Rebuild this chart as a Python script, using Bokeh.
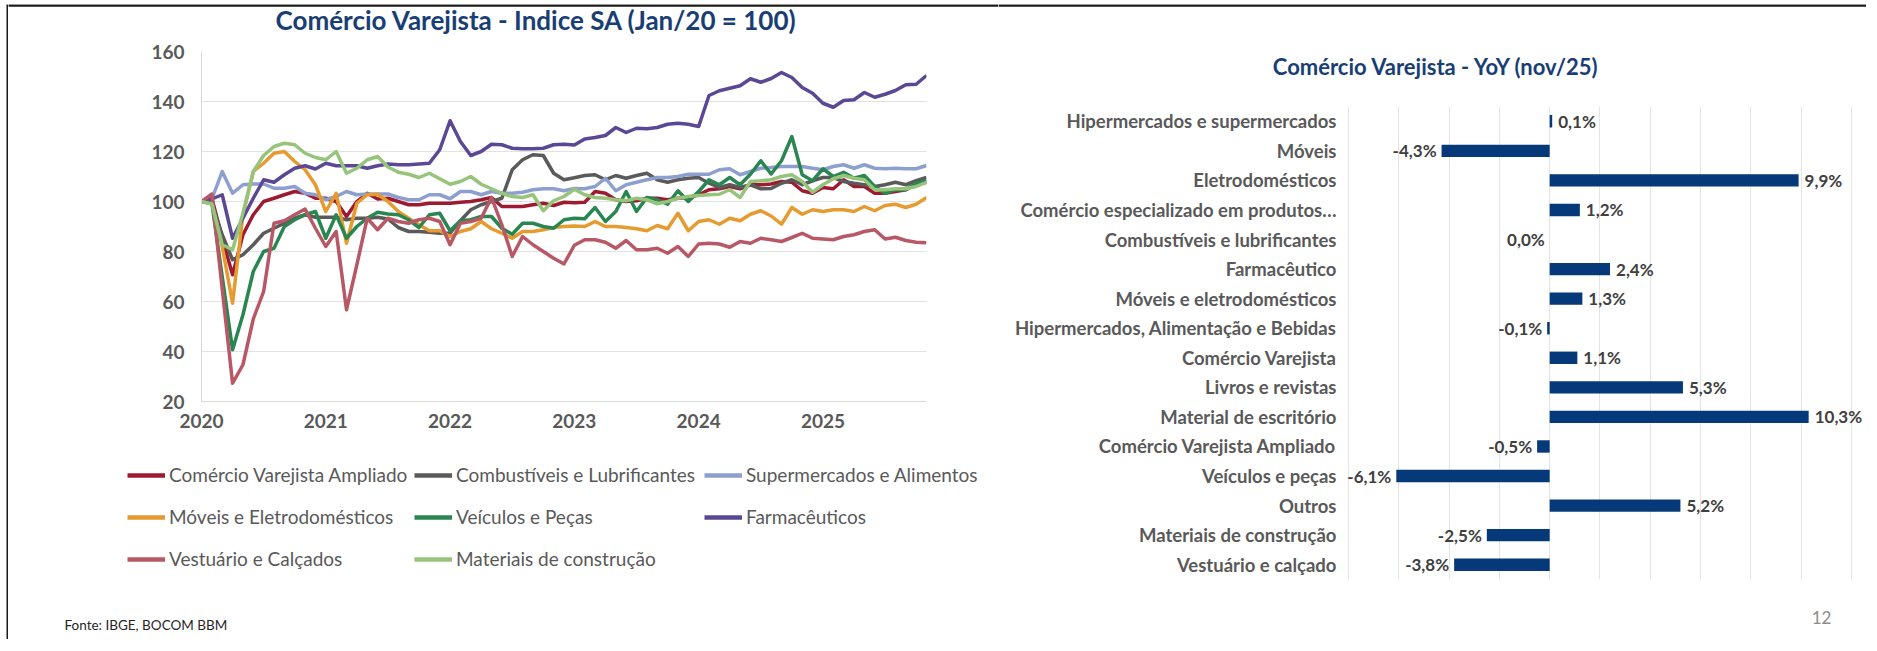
from bokeh.plotting import figure
from bokeh.models import (Range1d, FactorRange, FixedTicker, Label, Legend, LegendItem, ColumnDataSource,
                          Span, Spacer, BoxAnnotation)
from bokeh.layouts import row, column
from bokeh.core.properties import value
from bokeh.embed import file_html
from bokeh.resources import INLINE

FONT = "Lato"
TITLE_COLOR = "#183E74"
AXIS_TEXT = "#595959"
FRAME_COLOR = "#1A1A1A"

# ---------------- data: left chart (index, Jan/20 = 100), Jan 2020 .. Nov 2025 ----------------
year_labels = ["2020", "2021", "2022", "2023", "2024", "2025"]
y_ticks = [20, 40, 60, 80, 100, 120, 140, 160]

ampliado = [100, 101.3, 85.3, 70.7, 86.7, 94.7, 100, 101.3, 102.7, 104, 103.3, 101.3, 101.3, 100, 94, 100, 103.3, 101, 101.3,
            100, 98.7, 98.7, 99.3, 99.3, 99.3, 99.7, 100, 100.7, 101.6, 98, 98, 98, 98.7, 99.3, 98.4, 99.7, 99.5,
            99.7, 104, 103.3, 100.7, 100, 100.3, 101.3, 101.3, 100.7, 101.3, 101.6, 102.7, 104.7, 105.1, 106, 105.1, 106.7, 106.7, 107,
            108, 107.7, 104.3, 103.3, 105.6, 105.1, 108.7, 106, 106, 103.3, 103.3, 104, 104.7, 106.9, 107.7]
combustiveis = [100, 99.3, 86.7, 76.7, 78.7, 82.7, 87.3, 89.3, 91.3, 93.3, 94.7, 93.7, 93.7, 93.7, 92.7, 93.3, 93.3, 93.7, 93,
                89.6, 88, 88, 87.7, 87.3, 87.3, 92.3, 96.7, 98.7, 100, 101.3, 112.7, 116.7, 118.7, 118.4, 111.3, 108.7, 109.5,
                110.4, 110.7, 108.7, 110.4, 109.3, 110.4, 111.3, 108.7, 107.7, 108.7, 109.3, 109.6, 107.3, 105.6, 106.7, 105.6, 106.7, 105.1, 105.2,
                107.3, 108.7, 106.7, 108.3, 109.6, 109.6, 108, 107.3, 106.7, 106, 106.7, 107.7, 106.7, 108.3, 109.6]
supermercados = [100, 101, 112, 103.3, 106.7, 107, 107, 105.3, 105.3, 106, 103.3, 102.7, 100.7, 102, 104, 102.7, 103, 103, 103,
                 101.6, 100.7, 100.7, 102.7, 102.7, 101.1, 104, 104, 102.7, 104, 103.3, 103.3, 103.7, 104.7, 105.1, 105.1, 104.3, 105.2,
                 105.1, 106, 109.3, 104.3, 106.7, 107.7, 108.7, 109.6, 109.6, 110, 110.9, 110.9, 110.9, 112.7, 113.1, 110.7, 112, 113.3, 113.6,
                 114, 114, 114, 113.3, 112.7, 114, 114.7, 113.3, 114.7, 113.3, 113.1, 113.3, 113.1, 113.1, 114.4]
moveis = [100, 99.3, 82, 59.3, 94.7, 112, 115.3, 119.3, 120, 116, 112.7, 106.7, 96, 103.3, 83.3, 99.3, 102.7, 102.9, 100,
          96, 93.3, 90.7, 88.3, 88.3, 86, 88, 89.1, 92, 89.1, 87.3, 85.3, 88, 88, 88.7, 89.6, 90, 90.2,
          90, 92, 90, 90, 89.6, 89.1, 88.3, 90.4, 89.1, 95.3, 88.3, 92, 92.7, 90.9, 93.3, 92.3, 94.9, 96.3, 94.2,
          90.9, 97.6, 94.9, 96.7, 96, 96.7, 96.7, 96, 98, 96.3, 98.4, 98.9, 97.6, 98.9, 101.6]
veiculos = [100, 99.3, 70, 40.7, 54.7, 72, 80, 81.3, 90, 92.7, 94.7, 96, 85.3, 94.7, 85.3, 90, 93.3, 95.7, 95,
            94.7, 92.7, 89.6, 94.7, 95.3, 88.3, 92.3, 92.7, 94, 94, 89.3, 86.9, 91.3, 91.3, 90, 89.3, 92.7, 93.3,
            93.1, 97.6, 92, 96, 104, 96, 101.6, 100.7, 98.9, 104.3, 100, 104, 108.7, 106.7, 109.6, 106.7, 110.9, 116.3, 111,
            116.3, 126, 110.7, 108.3, 113.1, 110, 111.7, 109.3, 110.4, 106, 103.3, 104.7, 104.7, 107.3, 108.3]
farmaceuticos = [100, 101, 102.7, 85.3, 93.3, 101.3, 108.7, 107.7, 110.7, 113.3, 114.3, 113, 115.3, 114.3, 114.3, 114.3, 113.3, 114.3, 115,
                 114.7, 114.7, 115, 115.3, 120.7, 132.3, 124, 118.4, 120, 122.9, 122.7, 121.3, 121.1, 121.1, 121.3, 122.7, 122.9, 122.6,
                 125, 125.6, 126.4, 129.6, 127.6, 129.3, 129.1, 129.6, 130.9, 131.3, 130.9, 130, 142.4, 144.3, 145.3, 146.3, 149.1, 147.7, 149.2,
                 151.6, 149.6, 145.6, 143.3, 139.3, 137.7, 140.4, 140.7, 143.6, 141.7, 142.9, 144.4, 146.7, 146.9, 150.4]
vestuario = [100, 103, 65, 27.3, 34.7, 53, 64, 91.3, 92.3, 94.7, 97, 89.3, 82, 88, 56.7, 74.7, 93.3, 88.7, 93.3,
             92, 91.3, 92.7, 93.3, 92, 82.7, 91.3, 92, 93.3, 101.6, 90.7, 78, 86, 82.7, 80, 77.3, 75, 82.5,
             84.7, 84.7, 83.7, 81.3, 84.4, 80.7, 80.7, 81.3, 79.3, 82, 78, 83, 83.3, 83, 81.7, 84, 83.3, 85.3, 84.7,
             84, 85.6, 87.3, 85.3, 85, 84.7, 86, 86.7, 88, 88.7, 85, 85.7, 84.4, 83.7, 83.5]
materiais = [100, 99, 82.7, 80.7, 95.3, 112, 118.4, 122, 123.3, 122.7, 119.3, 117.6, 116.7, 120, 111.3, 113.3, 116.7, 118, 113.8,
             111.7, 110.9, 109.6, 111.3, 109.1, 106.9, 108, 110, 106.9, 105.1, 103.3, 102, 101.6, 102.7, 96.3, 100.3, 102, 104.9,
             102.7, 101.6, 101.3, 100.7, 100.3, 101.3, 100.7, 99.1, 100, 101.3, 102, 102.4, 102.7, 102.9, 104.7, 101.6, 108, 108.3, 108.7,
             110, 110.7, 108, 103.7, 106.7, 109.1, 110.4, 109.3, 108.7, 104.7, 104.7, 105.1, 105.1, 106, 107.7]

series_names = ["Comércio Varejista Ampliado", "Combustíveis e Lubrificantes", "Supermercados e Alimentos",
                "Móveis e Eletrodomésticos", "Veículos e Peças", "Farmacêuticos",
                "Vestuário e Calçados", "Materiais de construção"]
series_colors = ["#9E1A30", "#5A5A5A", "#8C9FCF", "#E59B30", "#2A8650", "#5B4894", "#B85866", "#96C47A"]
series_values = [ampliado, combustiveis, supermercados, moveis, veiculos, farmaceuticos, vestuario, materiais]

# ---------------- data: right chart (YoY nov/25, %) ----------------
yoy_categories = ["Hipermercados e supermercados", "Móveis", "Eletrodomésticos",
                  "Comércio especializado em produtos…", "Combustíveis e lubrificantes", "Farmacêutico",
                  "Móveis e eletrodomésticos", "Hipermercados, Alimentação e Bebidas", "Comércio Varejista",
                  "Livros e revistas", "Material de escritório", "Comércio Varejista Ampliado",
                  "Veículos e peças", "Outros", "Materiais de construção", "Vestuário e calçado"]
yoy_values = [0.1, -4.3, 9.9, 1.2, 0.0, 2.4, 1.3, -0.1, 1.1, 5.3, 10.3, -0.5, -6.1, 5.2, -2.5, -3.8]


def blank_fig(w, h, fill="white"):
    f = figure(width=w, height=h, x_range=Range1d(0, w), y_range=Range1d(h, 0),
               x_axis_location=None, y_axis_location=None, output_backend="svg",
               toolbar_location=None, min_border=0, frame_align=False)
    f.grid.visible = False
    f.outline_line_color = None
    f.background_fill_color = fill
    f.border_fill_color = fill
    return f


def text_label(f, x, y, text, size, color, bold=False, align="center"):
    f.add_layout(Label(x=x, y=y, text=text, text_align=align, text_baseline="middle",
                       text_font=FONT, text_font_style="bold" if bold else "normal",
                       text_font_size=size, text_color=color))


def top_rule(f):
    # top edge of the slide frame
    f.add_layout(Span(location=1, dimension="width", line_color=FRAME_COLOR, line_width=2))
    f.add_layout(BoxAnnotation(top=0, bottom=2, fill_color=FRAME_COLOR, fill_alpha=1,
                               line_color=None, level="overlay"))


# ================= left column =================
LW = 990
t1 = blank_fig(LW, 36)
text_label(t1, 528, 15, "Comércio Varejista - Indice SA (Jan/20 = 100)", "26px", TITLE_COLOR, bold=True)
top_rule(t1)

n = len(ampliado)
months = list(range(n))
p1 = figure(width=LW, height=401, x_range=Range1d(0, n - 1), y_range=Range1d(y_ticks[0], y_ticks[-1]),
            output_backend="svg", toolbar_location=None, frame_align=False,
            min_border_left=193, min_border_right=72, min_border_top=11, min_border_bottom=40)
p1.outline_line_color = None
p1.xgrid.grid_line_color = None
p1.ygrid.ticker = FixedTicker(ticks=y_ticks)
p1.ygrid.grid_line_color = "#C4C4C4"
p1.ygrid.grid_line_dash = "1 1"
p1.yaxis.ticker = FixedTicker(ticks=y_ticks)
p1.xaxis.ticker = FixedTicker(ticks=[12 * i for i in range(len(year_labels))])
p1.xaxis.major_label_overrides = {12 * i: lab for i, lab in enumerate(year_labels)}
for ax in (p1.xaxis[0], p1.yaxis[0]):
    ax.axis_line_color = "#D9D9D9"
    ax.major_tick_line_color = None
    ax.minor_tick_line_color = None
    ax.major_tick_out = 0
    ax.major_tick_in = 0
    ax.major_label_text_font = FONT
    ax.major_label_text_font_style = "bold"
    ax.major_label_text_font_size = "19px"
    ax.major_label_text_color = AXIS_TEXT
p1.yaxis.major_label_standoff = 17
p1.xaxis.major_label_standoff = 12

for name, vals, col in zip(series_names, series_values, series_colors):
    p1.line(months, vals, line_color=col, line_width=3.5, line_join="round")

# legend panel (own small canvas; legend samples use the series colours)
lg = blank_fig(LW, 140)
leg_rends = [lg.line(x=[float("nan")], y=[float("nan")], line_color=c, line_width=4.5) for c in series_colors]
legend_cols = [[0, 3, 6], [1, 4, 7], [2, 5]]
legend_pos = [(119, 11), (406, 11), (696, 53)]
for cols, pos in zip(legend_cols, legend_pos):
    leg = Legend(items=[LegendItem(label=series_names[i], renderers=[leg_rends[i]]) for i in cols],
                 location=pos, orientation="vertical",
                 glyph_width=38, glyph_height=20, label_height=20, label_standoff=4, spacing=19,
                 padding=0, margin=0, border_line_color=None, background_fill_alpha=0,
                 label_text_font=FONT, label_text_font_size="19px", label_text_color=AXIS_TEXT)
    lg.add_layout(leg)

ft = blank_fig(LW, 58)
text_label(ft, 56, 43.5, "Fonte: IBGE, BOCOM BBM", "13.5px", "#262626", align="left")

left_col = column(t1, p1, lg, ft)

# ================= right column =================
RW = 868
t2 = blank_fig(RW, 102)
top_rule(t2)
text_label(t2, 438, 61.5, "Comércio Varejista - YoY (nov/25)", "22px", TITLE_COLOR, bold=True)

labels = [(f"{v:.1f}".replace(".", ",") + "%") for v in yoy_values]
aligns = ["left" if v > 0 else "right" for v in yoy_values]
offs = [6 if v > 0 else -5 for v in yoy_values]
src = ColumnDataSource(dict(cat=yoy_categories, val=yoy_values, lab=labels, align=aligns, xoff=offs))

p2 = figure(width=RW, height=473, x_range=Range1d(-8.2, 12.6), y_range=FactorRange(factors=yoy_categories[::-1]),
            x_axis_location=None, output_backend="svg", toolbar_location=None, frame_align=False,
            min_border_left=345, min_border_right=0, min_border_top=0, min_border_bottom=0)
p2.outline_line_color = None
p2.ygrid.grid_line_color = None
p2.xgrid.ticker = FixedTicker(ticks=list(range(-8, 13, 2)))
p2.xgrid.grid_line_color = "#C8C8C8"
p2.xgrid.grid_line_dash = "1 1"
yax = p2.yaxis[0]
yax.axis_line_color = None
yax.major_tick_line_color = None
yax.minor_tick_line_color = None
yax.major_tick_out = 0
yax.major_tick_in = 0
yax.major_label_standoff = 7
yax.major_label_text_font = FONT
yax.major_label_text_font_style = "bold"
yax.major_label_text_font_size = "18.5px"
yax.major_label_text_color = AXIS_TEXT

p2.hbar(y="cat", left=0, right="val", height=0.42, fill_color="#06397A", line_color=None, source=src)
p2.text(x="val", y="cat", text="lab", text_align="align", x_offset="xoff", text_baseline="middle",
        text_font=value(FONT), text_font_style="bold", text_font_size="17px", text_color="#404040", source=src)

f2 = blank_fig(RW, 60)
text_label(f2, 823, 38, "12", "17px", "#8C8C8C")

right_col = column(t2, p2, f2)

# left edge of the slide frame
left_line = blank_fig(2, 635, fill=FRAME_COLOR)

layout = column(Spacer(height=4),
                row(Spacer(width=6), left_line, left_col, right_col))
open("out.html", "w").write(file_html(layout, INLINE))
